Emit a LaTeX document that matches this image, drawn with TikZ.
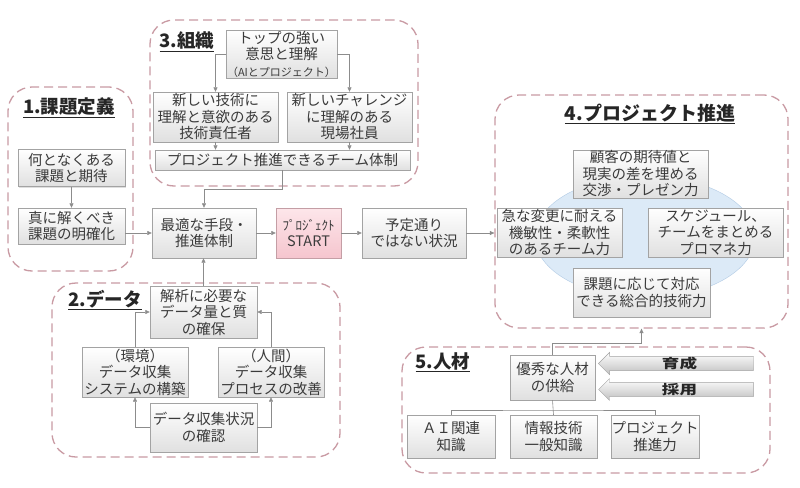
\documentclass[tikz,border=0pt]{standalone}
\usepackage{fontspec}
\setmainfont{Noto Sans CJK JP}
\usetikzlibrary{arrows.meta,shapes.geometric,shapes.arrows,shadows}
\definecolor{secline}{HTML}{C99AA3}
\definecolor{boxline}{HTML}{A3A3A3}
\definecolor{boxlow}{HTML}{E0E0E0}
\definecolor{ink}{HTML}{3B3B3B}
\definecolor{wire}{HTML}{8C8C8C}
\definecolor{skyfill}{HTML}{DCEAF7}
\definecolor{skyline}{HTML}{B2CBE5}
\definecolor{pinktop}{HTML}{FDE6EA}
\definecolor{pinklow}{HTML}{F5C5CE}

\begin{document}
\begin{tikzpicture}[x=1pt,y=-1pt,font=\fontsize{14.5}{16.5}\selectfont,text=ink,
  sec/.style={draw=secline,line width=1.3pt,dash pattern=on 9pt off 5pt,
              rounded corners=24pt,inner sep=0pt},
  ttl/.style={font=\fontsize{18.5}{21}\selectfont\bfseries,text=black!85},
  box/.style={draw=boxline,top color=white,bottom color=boxlow,align=center,inner sep=1pt,
              drop shadow={shadow xshift=1.2pt,shadow yshift=-1.2pt,opacity=.25}},
  startbox/.style={box,draw=pinklow!80!black,top color=pinktop,bottom color=pinklow},
  link/.style={draw=wire,line width=.6pt},
  arr/.style={link,-{Triangle[length=4.5pt,width=4pt]}},
  fat/.style={single arrow,shape border rotate=180,draw=boxline,top color=white,
              bottom color=black!25,single arrow head extend=4pt,minimum height=155pt,
              inner sep=.5pt,font=\fontsize{13}{14}\selectfont\bfseries,text=black!85}]
\fill[white] (0,0) rectangle (800,487);
\useasboundingbox (0,0) rectangle (800,487);

% dashed areas
\node[sec,minimum width=125,minimum height=184] (sec1) at (70.5,179) {};
\node[sec,minimum width=268,minimum height=166] (sec3) at (284,103) {};
\node[sec,minimum width=293,minimum height=233] (sec4) at (641.5,211.5) {};
\node[sec,minimum width=288,minimum height=174] (sec2) at (196,370) {};
\node[sec,minimum width=368,minimum height=126] (sec5) at (586,410) {};

% 1
\node[ttl] (t1) at (69,108) {\underline{1.課題定義}};
\node[box,minimum width=107,minimum height=37] (s1a) at (71.5,168) {何となくある\\課題と期待};
\node[box,minimum width=107,minimum height=36] (s1b) at (71.5,226) {真に解くべき\\課題の明確化};

% 3
\node[ttl] (t3) at (187,42) {\underline{3.組織}};
\node[box,minimum width=107,minimum height=48] (s3top) at (281.5,54)
  {トップの強い\\意思と理解\\{\fontsize{11}{12}\selectfont （AIとプロジェクト）}};
\node[box,minimum width=125,minimum height=50] (s3l) at (215.5,117) {新しい技術に\\理解と意欲のある\\技術責任者};
\node[box,minimum width=125,minimum height=50] (s3r) at (349.5,117) {新しいチャレンジ\\に理解のある\\現場社員};
\node[box,minimum width=255,minimum height=20] (s3team) at (282.5,160) {プロジェクト推進できるチーム体制};

% middle row
\node[box,minimum width=104,minimum height=50] (opt) at (204,233) {最適な手段・\\推進体制};
\node[startbox,minimum width=65,minimum height=50] (start) at (308.5,233)
  {{\fontsize{13}{15}\selectfont ﾌﾟﾛｼﾞｪｸﾄ}\\START};
\node[box,minimum width=104,minimum height=50] (situ) at (414,233) {予定通り\\ではない状況};

% 4
\node[ttl,font=\fontsize{19}{22}\selectfont\bfseries] (t4) at (650,114) {\underline{4.プロジェクト推進}};
\node[ellipse,draw=skyline,fill=skyfill,minimum width=220,minimum height=122] (oval) at (645,237) {};
\node[box,minimum width=135,minimum height=48] (p4top) at (640.5,174) {顧客の期待値と\\現実の差を埋める\\交渉・プレゼン力};
\node[box,minimum width=125,minimum height=49] (p4left) at (559.5,232.5) {急な変更に耐える\\機敏性・柔軟性\\のあるチーム力};
\node[box,minimum width=135,minimum height=49] (p4right) at (715.5,232.5) {スケジュール、\\チームをまとめる\\プロマネ力};
\node[box,minimum width=137,minimum height=49] (p4bot) at (641.5,292.5) {課題に応じて対応\\できる総合的技術力};

% 2
\node[ttl] (t2) at (105,300) {\underline{2.データ}};
\node[box,minimum width=107,minimum height=52] (d2top) at (203.5,312) {解析に必要な\\データ量と質\\の確保};
\node[box,minimum width=106,minimum height=50] (d2env) at (135,372) {（環境）\\データ収集\\システムの構築};
\node[box,minimum width=106,minimum height=50] (d2hum) at (271,372) {（人間）\\データ収集\\プロセスの改善};
\node[box,minimum width=107,minimum height=49] (d2chk) at (203.5,427.5) {データ収集状況\\の確認};

% 5
\node[ttl] (t5) at (443,362) {\underline{5.人材}};
\node[box,minimum width=85,minimum height=45] (h5sup) at (552.5,377.5) {優秀な人材\\の供給};
\node[fat] (grow) at (679.5,363.5) {\scalebox{1.35}[1]{育成}};
\node[fat] (hire) at (679.5,389.5) {\scalebox{1.35}[1]{採用}};
\node[box,minimum width=88,minimum height=43] (h5ai) at (451,436.5) {ＡＩ関連\\知識};
\node[box,minimum width=87,minimum height=43] (h5it) at (553.5,436.5) {情報技術\\一般知識};
\node[box,minimum width=88,minimum height=43,inner sep=0pt] (h5pm) at (655,436.5) {プロジェクト\\推進力};
\coordinate (h5bar) at (553,410);

% connectors
\draw[arr] (s1a) -- (s1b);
\draw[arr] (s1b.east |- opt.west) -- (opt.west);
\draw[arr] (s3top.west) -| (s3l.north);
\draw[arr] (s3top.east) -| (s3r.north);
\draw[arr] (s3l.south) -- (s3l.south |- s3team.north);
\draw[arr] (s3r.south) -- (s3r.south |- s3team.north);
\draw[arr] (s3team.south) -- ++(0,19) -| (opt.north);
\draw[arr] (opt) -- (start);
\draw[arr] (start) -- (situ);
\draw[arr] (situ.east) -- (situ.east -| sec4.west);
\draw[arr] (d2top.north) -- (d2top.north |- opt.south);
\draw[arr] (d2env.north) |- (d2top.west);
\draw[arr] (d2hum.north) |- (d2top.east);
\draw[arr] (d2chk.west) -| (d2env.south);
\draw[arr] (d2chk.east) -| (d2hum.south);
\draw[link] (h5sup.south) -- (h5it.north);
\draw[link] (h5ai.north) |- (h5bar) -| (h5pm.north);
\draw[arr] (h5sup.north) -- ++(0,-12) -| (sec4.south);
\end{tikzpicture}
\end{document}
